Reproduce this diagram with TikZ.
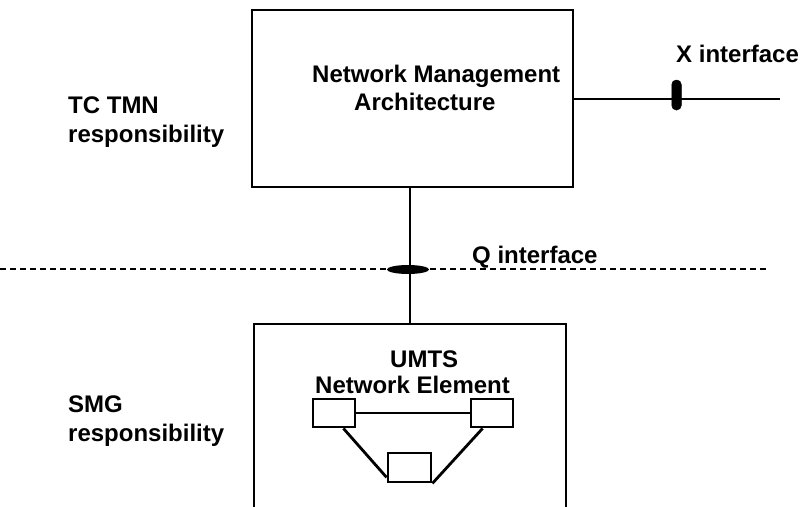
\documentclass[tikz,border=0pt]{standalone}
\usepackage{fontspec}
\setmainfont{Liberation Sans}
\usetikzlibrary{shapes.geometric}
\begin{document}
\begin{tikzpicture}[x=1pt,y=-1pt,
  line/.style={line width=2.8pt},
  lbl/.style={font=\fontsize{24}{29}\selectfont\bfseries, inner sep=0pt, anchor=base west},
  small/.style={draw, line width=2.8pt, minimum width=42pt, minimum height=28pt, inner sep=0pt}]
\useasboundingbox (0,0) rectangle (800,506);
% top box
\node[draw, line width=2.8pt, minimum width=321pt, minimum height=177pt, inner sep=0pt] (nma) at (412.5,98.5) {};
\node[lbl] (nmat1) at (312,82) {Network Management};
\node[lbl] (nmat2) at (354,110) {Architecture};
\node[lbl] (tc1) at (68,113) {TC TMN};
\node[lbl] (tc2) at (68,142) {responsibility};
% X interface
\coordinate (xend) at (780,99);
\draw[line] (nma.east |- xend) -- (xend);
\node[draw, fill=black, line width=0.5pt, rounded corners=4.5pt, minimum width=9.5pt, minimum height=30pt, inner sep=0pt] (xcap) at (676.5,95) {};
\node[lbl] (xl) at (676,62) {X interface};
% dashed line
\coordinate (dl) at (0,269);
\coordinate (dr) at (768,269);
\draw[line width=2.4pt, dash pattern=on 6pt off 4pt] (dl) -- (dr);
% lower box (open at bottom)
\coordinate (bl) at (254,507);
\coordinate (tl) at (254,324);
\coordinate (tr) at (566,324);
\coordinate (br) at (566,507);
\draw[line width=2.8pt] (bl) -- (tl) -- (tr) -- (br);
\coordinate (qtop) at (410,324);
\draw[line] (nma.south -| qtop) -- (qtop);
\node[fill=black, ellipse, minimum width=42pt, minimum height=9pt, inner sep=0pt] (qcap) at (408,269.5) {};
\node[lbl] (ql) at (472,263) {Q interface};
\node[lbl] (umts1) at (390,367) {UMTS};
\node[lbl] (umts2) at (315,393) {Network Element};
\node[lbl] (smg1) at (68,412) {SMG};
\node[lbl] (smg2) at (68,441) {responsibility};
% small boxes
\node[small] (s1) at (334,413) {};
\node[small] (s2) at (492,413) {};
\node[small, minimum width=43pt, minimum height=29pt] (s3) at (409.5,467.5) {};
\draw[line] (s1.east) -- (s2.west);
\draw[line] ([xshift=-13pt]s1.south east) -- ([yshift=6pt]s3.south west);
\draw[line] ([xshift=13pt]s2.south west) -- (s3.south east);
\end{tikzpicture}
\end{document}
